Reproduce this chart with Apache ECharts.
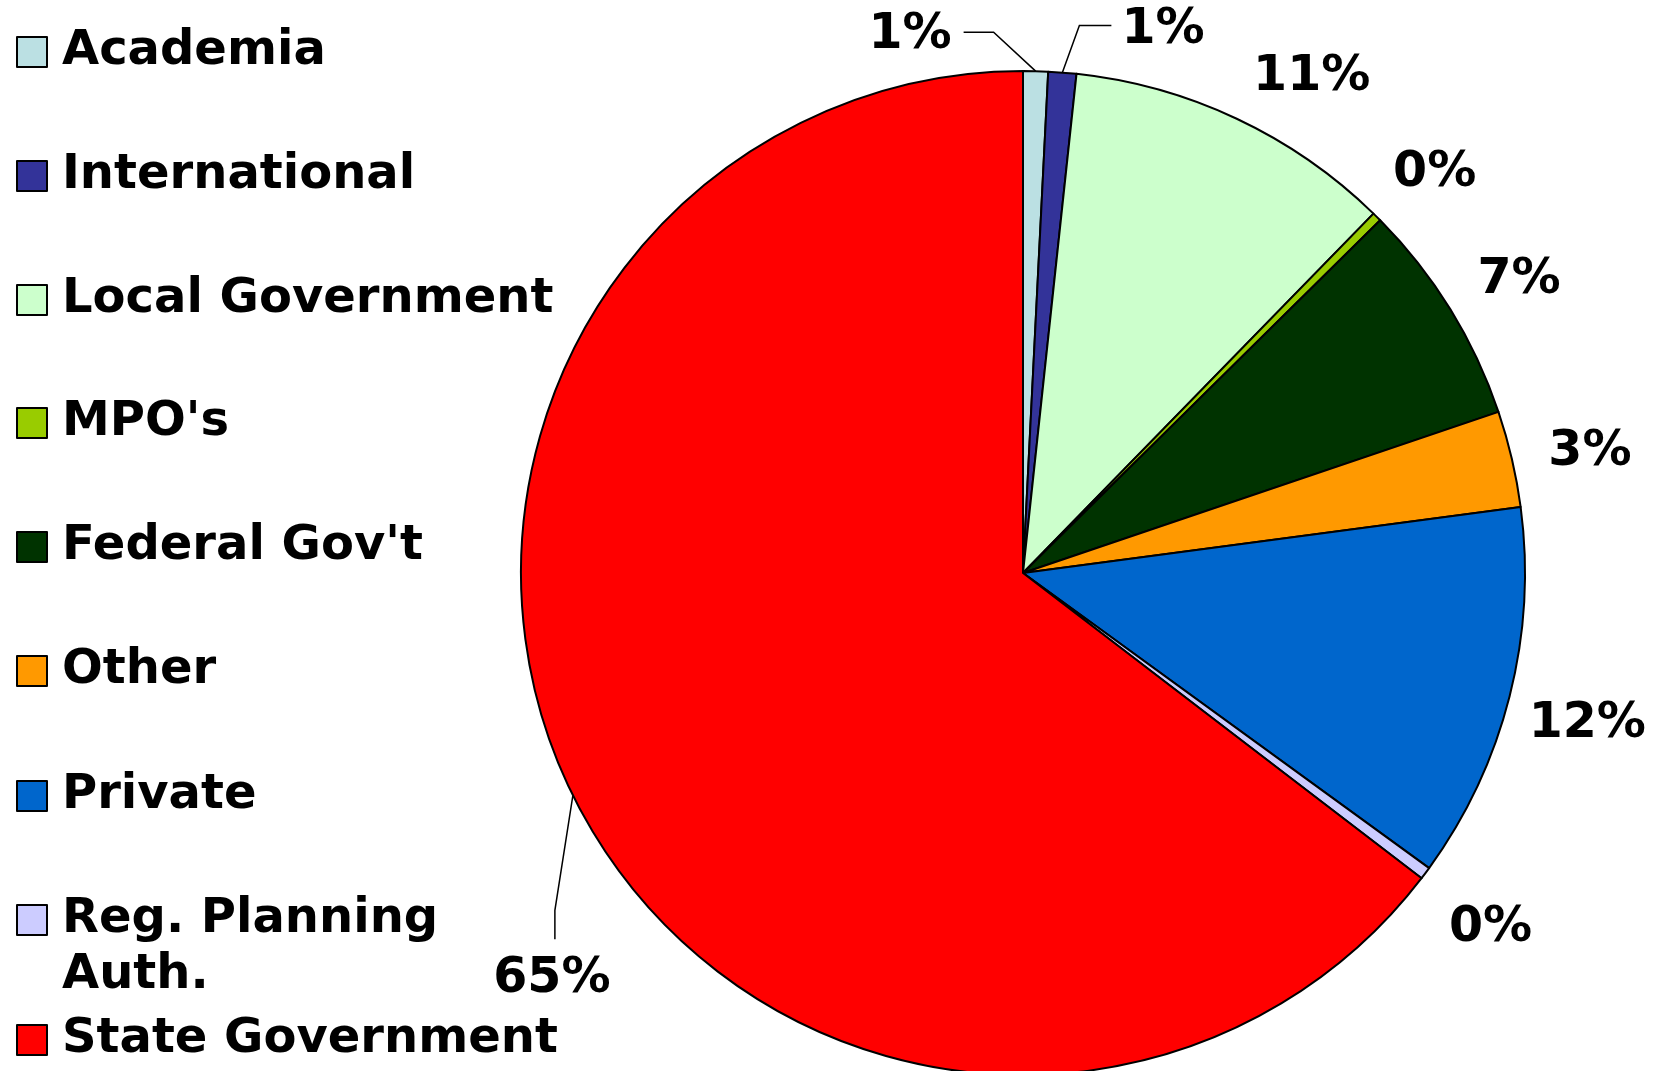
<!DOCTYPE html>
<html><head><meta charset="utf-8">
<script src="https://cdn.jsdelivr.net/npm/echarts@6/dist/echarts.min.js"></script>
<style>html,body{margin:0;padding:0;background:#fff}#c{width:1671px;height:1071px}</style>
</head><body><div id="c"></div>
<script>
const categories = ['Academia', 'International', 'Local Government', "MPO's", "Federal Gov't", 'Other', 'Private', 'Reg. Planning\nAuth.', 'State Government'];
const shares = [0.8, 0.9, 10.6, 0.3, 7.2, 3.1, 12.1, 0.4, 64.6];
const colors = ['#BBE0E3', '#333399', '#CCFFCC', '#99CC00', '#003300', '#FF9900', '#0066CC', '#CCCCFF', '#FF0000'];
const leaderItems = [0, 1, 8];

const legendCenters = [52, 176, 300, 423, 547, 671, 796, 920, 1040];
const FONT = 'DejaVu Sans';

const legends = categories.map((name, i) => {
  const twoLine = name.indexOf('\n') >= 0;
  return {
    data: [name], orient: 'vertical', left: 16,
    top: twoLine ? legendCenters[i] - 84 : legendCenters[i] - 28,
    padding: 0, itemWidth: 30, itemHeight: 30, itemGap: 0, icon: 'rect', selectedMode: false,
    formatter: twoLine ? (n => ' \n' + n) : (n => n),
    itemStyle: { borderColor: '#000', borderWidth: 2 },
    textStyle: { fontFamily: FONT, fontWeight: 'bold', fontSize: 48, lineHeight: 56, color: '#000', padding: [0, 0, 0, 10] }
  };
});

const data = categories.map((name, i) => ({
  name, value: shares[i],
  itemStyle: { color: colors[i] },
  labelLine: { show: leaderItems.indexOf(i) >= 0 }
}));

const chart = echarts.init(document.getElementById('c'), null, { renderer: 'canvas' });
chart.setOption({
  animation: false,
  backgroundColor: '#fff',
  legend: legends,
  series: [{
    type: 'pie',
    center: [1023, 573],
    radius: 502,
    startAngle: 90,
    clockwise: true,
    avoidLabelOverlap: false,
    percentPrecision: 0,
    data,
    itemStyle: { borderColor: '#000', borderWidth: 2 },
    label: {
      show: true, position: 'outside', formatter: '{d}%',
      fontFamily: FONT, fontWeight: 'bold', fontSize: 49, color: '#000'
    },
    labelLine: { length: 75, length2: 0, smooth: false, lineStyle: { color: '#000', width: 1.5 } },
    labelLayout: function (p) {
      const i = p.dataIndex, pts = p.labelLinePoints;
      if (!pts || leaderItems.indexOf(i) < 0) {
        // Local Government label sits a little further round, as in the original
        if (i === 2) return { align: 'center', verticalAlign: 'middle', dx: 38, dy: 26 };
        return { align: 'center', verticalAlign: 'middle', dy: 10 };
      }
      const e = pts[0];
      if (i === 0) {
        const b = [e[0] - 42, e[1] - 39], t = [e[0] - 72, e[1] - 39];
        return { x: t[0] - 12, y: t[1] + 3, align: 'right', verticalAlign: 'middle', labelLinePoints: [e, b, t] };
      }
      if (i === 1) {
        const b = [e[0] + 17, e[1] - 47], t = [e[0] + 49, e[1] - 47];
        return { x: t[0] + 10, y: t[1] + 5, align: 'left', verticalAlign: 'middle', labelLinePoints: [e, b, t] };
      }
      const b = [e[0] - 18, e[1] + 115], t = [b[0], b[1] + 29];
      return { x: t[0] - 3, y: t[1] + 40, align: 'center', verticalAlign: 'middle', labelLinePoints: [e, b, t] };
    }
  }]
});
</script></body></html>
